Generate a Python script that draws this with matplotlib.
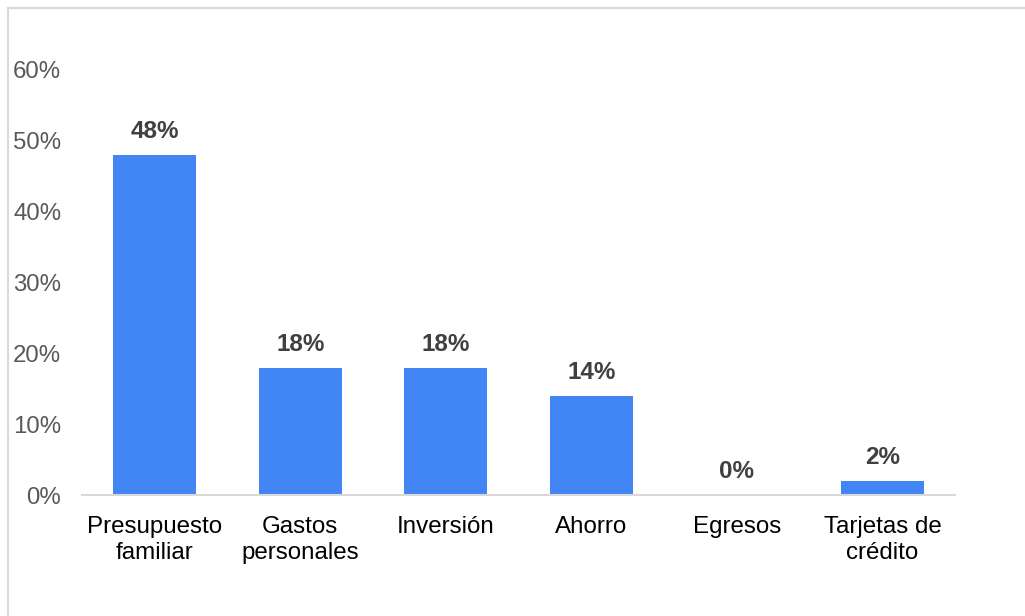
import matplotlib
matplotlib.use("Agg")
import matplotlib.pyplot as plt
from matplotlib.lines import Line2D

categories = ["Presupuesto\nfamiliar", "Gastos\npersonales", "Inversión", "Ahorro", "Egresos", "Tarjetas de\ncrédito"]
values = [0.48, 0.18, 0.18, 0.14, 0.00, 0.02]
yticks = [0.0, 0.1, 0.2, 0.3, 0.4, 0.5, 0.6]
ytick_labels = ["0%", "10%", "20%", "30%", "40%", "50%", "60%"]

plt.rcParams['font.family'] = ['Liberation Sans', 'DejaVu Sans']

fig = plt.figure(figsize=(10.25, 6.16), dpi=100)
ax = fig.add_axes([0.080, 0.1964, 0.852, 0.690])

x = list(range(len(categories)))
ax.bar(x, values, width=0.57, color="#4285F4", zorder=2)
for xi, v in zip(x, values):
    ax.annotate(f"{v*100:.0f}%", (xi, v), xytext=(0, 8.5), textcoords="offset points",
                ha="center", va="bottom", fontsize=17.5, fontweight="bold", color="#404040")

ax.set_xlim(-0.5, len(categories) - 0.5)
ax.set_ylim(0, 0.6)
ax.set_yticks(yticks)
ax.set_yticklabels(ytick_labels, fontsize=17.3, color="#595959")
ax.set_xticks(x)
ax.set_xticklabels(categories, fontsize=17.4, color="black", linespacing=1.25)
ax.tick_params(axis="y", length=0, pad=15)
ax.tick_params(axis="x", length=0, pad=15)
for s in ["top", "right", "left"]:
    ax.spines[s].set_visible(False)
ax.spines["bottom"].set_color("#d9d9d9")
ax.spines["bottom"].set_linewidth(1.5)

# figure border (top and left visible)
fig.add_artist(Line2D([8/1025, 8/1025], [0, 1 - 8/616], transform=fig.transFigure, color="#d9d9d9", lw=1.5))
fig.add_artist(Line2D([8/1025, 1], [1 - 8/616, 1 - 8/616], transform=fig.transFigure, color="#d9d9d9", lw=1.5))

fig.savefig("out.png", dpi=100)
